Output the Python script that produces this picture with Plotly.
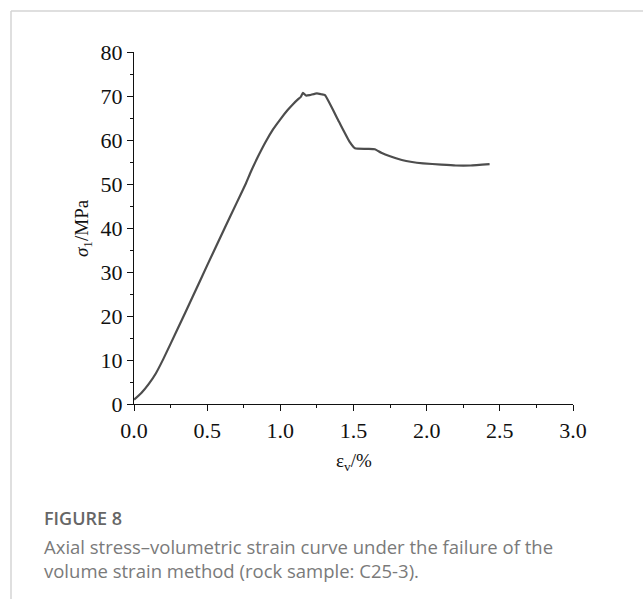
import plotly.graph_objects as go

# Data (volumetric strain %, axial stress MPa)
strain = [0.0, 0.05, 0.10, 0.15, 0.20, 0.30, 0.40, 0.50, 0.62, 0.70, 0.763, 0.80,
          0.85, 0.90, 0.95, 1.00, 1.05, 1.088, 1.122, 1.14, 1.155, 1.175, 1.20,
          1.25, 1.28, 1.305, 1.40, 1.475, 1.51, 1.60, 1.646, 1.69, 1.75, 1.83,
          1.90, 1.976, 2.10, 2.20, 2.30, 2.43]
stress = [1.0, 2.5, 4.5, 7.0, 10.2, 17.2, 24.3, 31.5, 40.0, 45.6, 50.0, 52.9,
          56.4, 59.6, 62.4, 64.7, 66.8, 68.2, 69.3, 69.8, 70.7, 70.1, 70.2,
          70.6, 70.4, 70.2, 64.2, 59.5, 58.1, 58.0, 57.9, 57.1, 56.3, 55.45,
          55.0, 54.7, 54.4, 54.2, 54.2, 54.5]

x_ticks = [0.0, 0.5, 1.0, 1.5, 2.0, 2.5, 3.0]
y_ticks = [0, 10, 20, 30, 40, 50, 60, 70, 80]

W, H = 643, 599
L, R, T, B = 134, 573, 52, 404


def px(x):
    return (x - L) / (R - L)


def py(y):
    return (B - y) / (B - T)


fig = go.Figure()
fig.add_trace(go.Scatter(x=strain, y=stress, mode="lines",
                         line=dict(color="#4d4d4d", width=2.2, shape="spline",
                                   smoothing=0.4),
                         showlegend=False, hoverinfo="skip"))

tickfont = dict(family="Liberation Serif", size=22, color="#111111")
axis_common = dict(showline=True, linecolor="#111111", linewidth=1.2,
                   ticks="outside", ticklen=6, tickwidth=1.2, tickcolor="#111111",
                   showgrid=False, zeroline=False, mirror=False,
                   tickfont=tickfont)

fig.update_xaxes(range=[0, 3], tickvals=x_ticks,
                 ticktext=[f"{v:.1f}" for v in x_ticks],
                 minor=dict(ticks="outside", ticklen=3, tickwidth=1.2,
                            tickcolor="#111111", dtick=0.25, tick0=0),
                 **axis_common)
fig.update_yaxes(range=[0, 80], tickvals=y_ticks,
                 ticktext=[str(v) for v in y_ticks],
                 minor=dict(ticks="outside", ticklen=3, tickwidth=1.2,
                            tickcolor="#111111", dtick=5, tick0=0),
                 **axis_common)

annotations = [
    dict(x=px(354), y=py(462), xref="paper", yref="paper",
         text="ε<sub>v</sub>/%", showarrow=False,
         font=dict(family="Liberation Serif", size=19, color="#111111"),
         xanchor="center", yanchor="middle"),
    dict(x=px(83), y=py(228), xref="paper", yref="paper",
         text="<i>σ</i><sub>1</sub>/MPa", showarrow=False, textangle=-90,
         font=dict(family="Liberation Serif", size=19, color="#111111"),
         xanchor="center", yanchor="middle"),
    dict(x=px(42), y=py(518), xref="paper", yref="paper",
         text="FIGURE 8", showarrow=False,
         font=dict(family="Open Sans", size=18, color="#666666", weight=600),
         xanchor="left", yanchor="middle"),
    dict(x=px(42), y=py(546), xref="paper", yref="paper",
         text="Axial stress\u2013volumetric strain curve under the failure of the",
         showarrow=False,
         font=dict(family="Open Sans", size=18.5, color="#7a7a7a"),
         xanchor="left", yanchor="middle"),
    dict(x=px(42), y=py(570), xref="paper", yref="paper",
         text="volume strain method (rock sample: C25-3).",
         showarrow=False,
         font=dict(family="Open Sans", size=18.5, color="#7a7a7a"),
         xanchor="left", yanchor="middle"),
]

shapes = [
    dict(type="line", xref="paper", yref="paper",
         x0=px(11), x1=px(11), y0=py(11), y1=py(W + 10),
         line=dict(color="#d4d4d4", width=1.5)),
    dict(type="line", xref="paper", yref="paper",
         x0=px(11), x1=px(W + 5), y0=py(11), y1=py(11),
         line=dict(color="#d4d4d4", width=1.5)),
]

fig.update_layout(width=W, height=H, autosize=False,
                  margin=dict(l=L, r=W - R, t=T, b=H - B, pad=0),
                  plot_bgcolor="white", paper_bgcolor="white",
                  annotations=annotations, shapes=shapes)

fig.write_html("out.html")
